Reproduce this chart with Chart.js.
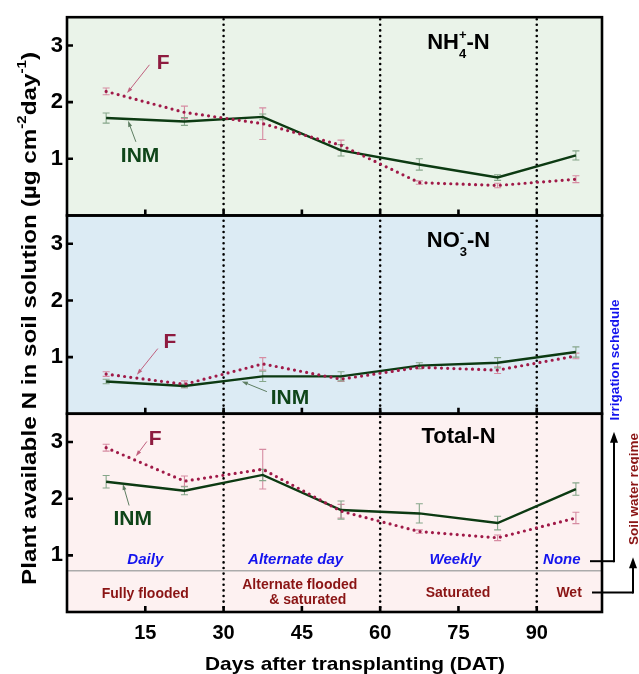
<!DOCTYPE html>
<html>
<head>
<meta charset="utf-8">
<script src="https://cdn.jsdelivr.net/npm/chart.js@4.4.1/dist/chart.umd.min.js"></script>
<style>
  html, body { margin: 0; padding: 0; background: #fff; }
</style>
</head>
<body>
<canvas id="c" width="639" height="674"></canvas>
<script>
// sampling times (days after transplanting)
const days = [7.5, 22.5, 37.5, 52.5, 67.5, 82.5, 97.5];

// NH4+-N
const nh4F = [2.19, 1.82, 1.62, 1.24, 0.58, 0.53, 0.64];
const nh4FErr = [0.06, 0.11, 0.28, 0.09, 0.03, 0.04, 0.06];
const nh4INM = [1.72, 1.66, 1.74, 1.15, 0.90, 0.67, 1.06];
const nh4INMErr = [0.09, 0.07, 0.05, 0.10, 0.10, 0.05, 0.08];

// NO3--N
const no3F = [0.70, 0.52, 0.88, 0.61, 0.82, 0.77, 1.02];
const no3FErr = [0.04, 0.06, 0.11, 0.04, 0.03, 0.06, 0.05];
const no3INM = [0.57, 0.49, 0.66, 0.66, 0.85, 0.90, 1.09];
const no3INMErr = [0.04, 0.03, 0.09, 0.08, 0.05, 0.09, 0.09];

// Total-N
const totF = [2.90, 2.31, 2.52, 1.78, 1.42, 1.31, 1.66];
const totFErr = [0.06, 0.09, 0.35, 0.12, 0.03, 0.05, 0.10];
const totINM = [2.30, 2.14, 2.42, 1.80, 1.74, 1.57, 2.17];
const totINMErr = [0.11, 0.07, 0.10, 0.16, 0.17, 0.12, 0.11];

const xTicks = [15, 30, 45, 60, 75, 90];
const yTicks = [1, 2, 3];
const phaseDays = [30, 60, 90];

const irrigation = ['Daily', 'Alternate day', 'Weekly', 'None'];
const regime = [['Fully flooded'], ['Alternate flooded', '& saturated'], ['Saturated'], ['Wet']];

// colours
const cF = '#A01A48';
const cINM = '#0C3A12';
const cFErr = '#D68CA2';
const cINMErr = '#86A68A';
const cBlue = '#1414EE';
const cRed = '#8A1414';
const FONT = '"Liberation Sans", Arial, sans-serif';
const f = (s, st) => `${st || 'bold'} ${s}px ${FONT}`;

const pts = (ys) => days.map((d, i) => ({x: d, y: ys[i]}));

function line(label, axis, ys, err, isF) {
  return {
    label, yAxisID: axis, data: pts(ys), err,
    errColor: isF ? cFErr : cINMErr,
    borderColor: isF ? cF : cINM,
    backgroundColor: isF ? cF : cINM,
    borderWidth: isF ? 3.2 : 2.4,
    borderDash: isF ? [0, 6.2] : [],
    borderCapStyle: isF ? 'round' : 'butt',
    pointRadius: 0,
    tension: 0
  };
}

// layout of annotations (data units of each panel)
const panelDefs = [
  {axis: 'yN', bg: '#EAF3E9', title: ['NH', {sub: '4', sup: '+'}, '-N'], titleAt: [75, 3.08]},
  {axis: 'yO', bg: '#DCEBF4', title: ['NO', {sub: '3', sup: '-'}, '-N'], titleAt: [75, 3.08]},
  {axis: 'yT', bg: '#FDF1F1', title: ['Total-N'], titleAt: [75, 3.13]}
];
const seriesTags = [
  {axis: 'yN', text: 'F', color: '#8E1B3F', arrowColor: '#C0607E', at: [18.4, 2.72], from: [15.8, 2.66], to: [11.5, 2.16]},
  {axis: 'yN', text: 'INM', color: '#0F4519', arrowColor: '#5E7E62', at: [14.0, 1.08], from: [13.2, 1.30], to: [11.7, 1.67]},
  {axis: 'yO', text: 'F', color: '#8E1B3F', arrowColor: '#C0607E', at: [19.7, 1.30], from: [17.4, 1.15], to: [13.4, 0.69]},
  {axis: 'yO', text: 'INM', color: '#0F4519', arrowColor: '#5E7E62', at: [42.7, 0.31], from: [38.3, 0.39], to: [33.5, 0.57]},
  {axis: 'yT', text: 'F', color: '#8E1B3F', arrowColor: '#C0607E', at: [16.9, 3.08], from: [15.3, 3.01], to: [13.2, 2.75]},
  {axis: 'yT', text: 'INM', color: '#0F4519', arrowColor: '#5E7E62', at: [12.6, 1.67], from: [11.9, 1.88], to: [10.7, 2.26]}
];
const irrigationAt = [[15, 0.95], [43.8, 0.95], [74.4, 0.95], [94.8, 0.95]];
const regimeAt = [[15, 0.33], [44.6, 0.49], [74.9, 0.35], [96.2, 0.36]];
const regimeLine = 0.73;

function richDraw(ctx, parts, cx, cy, size, color, rot, target) {
  const small = Math.round(size * 0.6);
  ctx.save();
  ctx.translate(cx, cy);
  if (rot) ctx.rotate(rot);
  ctx.fillStyle = color;
  ctx.textAlign = 'left';
  ctx.textBaseline = 'alphabetic';
  let w = 0;
  parts.forEach(p => {
    if (typeof p === 'string') { ctx.font = f(size); w += ctx.measureText(p).width; }
    else {
      ctx.font = f(small);
      w += Math.max(p.sub ? ctx.measureText(p.sub).width : 0, p.sup ? ctx.measureText(p.sup).width : 0);
    }
  });
  if (target) { ctx.scale(target / w, 1); }
  let x = -w / 2;
  const base = size * 0.36;
  parts.forEach(p => {
    if (typeof p === 'string') {
      ctx.font = f(size);
      ctx.fillText(p, x, base);
      x += ctx.measureText(p).width;
    } else {
      ctx.font = f(small);
      let pw = 0;
      if (p.sup) { ctx.fillText(p.sup, x, base - size * 0.47); pw = Math.max(pw, ctx.measureText(p.sup).width); }
      if (p.sub) { ctx.fillText(p.sub, x, base + size * 0.4); pw = Math.max(pw, ctx.measureText(p.sub).width); }
      x += pw;
    }
  });
  ctx.restore();
}

function arrow(ctx, x1, y1, x2, y2, color, lw, head, hw) {
  const ang = Math.atan2(y2 - y1, x2 - x1);
  ctx.save();
  ctx.strokeStyle = color; ctx.fillStyle = color; ctx.lineWidth = lw;
  ctx.beginPath(); ctx.moveTo(x1, y1);
  ctx.lineTo(x2 - Math.cos(ang) * head * 0.8, y2 - Math.sin(ang) * head * 0.8); ctx.stroke();
  ctx.translate(x2, y2); ctx.rotate(ang);
  ctx.beginPath(); ctx.moveTo(0, 0); ctx.lineTo(-head, -hw / 2); ctx.lineTo(-head, hw / 2); ctx.closePath(); ctx.fill();
  ctx.restore();
}

const deco = {
  id: 'deco',
  beforeDatasetsDraw(chart) {
    const {ctx, chartArea: a, scales} = chart;
    const xs = scales.x;
    ctx.save();
    panelDefs.forEach(p => {
      const s = scales[p.axis];
      ctx.fillStyle = p.bg;
      ctx.fillRect(a.left, s.top, a.right - a.left, s.bottom - s.top);
    });
    const yT = scales.yT;
    ctx.strokeStyle = '#ABABAB'; ctx.lineWidth = 1.5;
    ctx.beginPath();
    ctx.moveTo(a.left, yT.getPixelForValue(regimeLine)); ctx.lineTo(a.right, yT.getPixelForValue(regimeLine));
    ctx.stroke();
    // phase boundaries
    ctx.strokeStyle = '#000'; ctx.lineWidth = 2.6; ctx.lineCap = 'round'; ctx.setLineDash([0, 5.6]);
    phaseDays.forEach(d => {
      const px = xs.getPixelForValue(d);
      ctx.beginPath(); ctx.moveTo(px, a.top + 2); ctx.lineTo(px, a.bottom); ctx.stroke();
    });
    ctx.setLineDash([]); ctx.lineCap = 'butt';
    // error bars
    chart.data.datasets.forEach(ds => {
      const s = scales[ds.yAxisID];
      ctx.strokeStyle = ds.errColor; ctx.lineWidth = 1.1;
      ds.data.forEach((p, j) => {
        const px = xs.getPixelForValue(p.x);
        const lo = s.getPixelForValue(p.y - ds.err[j]);
        const hi = s.getPixelForValue(p.y + ds.err[j]);
        ctx.beginPath();
        ctx.moveTo(px, lo); ctx.lineTo(px, hi);
        ctx.moveTo(px - 3.5, lo); ctx.lineTo(px + 3.5, lo);
        ctx.moveTo(px - 3.5, hi); ctx.lineTo(px + 3.5, hi);
        ctx.stroke();
      });
    });
    ctx.restore();
  },
  afterDatasetsDraw(chart) {
    const {ctx, chartArea: a, scales} = chart;
    const xs = scales.x;
    ctx.save();
    // frames and inward ticks
    ctx.strokeStyle = '#000'; ctx.lineWidth = 2.6;
    panelDefs.forEach(p => {
      const s = scales[p.axis];
      ctx.strokeRect(a.left, s.top, a.right - a.left, s.bottom - s.top);
      ctx.beginPath();
      xTicks.forEach(t => {
        const px = xs.getPixelForValue(t);
        ctx.moveTo(px, s.bottom); ctx.lineTo(px, s.bottom - 6);
      });
      yTicks.forEach(t => {
        const py = s.getPixelForValue(t);
        ctx.moveTo(a.left, py); ctx.lineTo(a.left + 6, py);
      });
      ctx.stroke();
      richDraw(ctx, p.title, xs.getPixelForValue(p.titleAt[0]), s.getPixelForValue(p.titleAt[1]), 22, '#000');
    });
    // series tags
    seriesTags.forEach(t => {
      const s = scales[t.axis];
      arrow(ctx, xs.getPixelForValue(t.from[0]), s.getPixelForValue(t.from[1]),
        xs.getPixelForValue(t.to[0]), s.getPixelForValue(t.to[1]), t.arrowColor, 1, 6, 4);
      ctx.font = f(21); ctx.fillStyle = t.color; ctx.textAlign = 'center'; ctx.textBaseline = 'alphabetic';
      ctx.fillText(t.text, xs.getPixelForValue(t.at[0]), s.getPixelForValue(t.at[1]) + 21 * 0.36);
    });
    // irrigation schedule / soil water regime
    const yT = scales.yT;
    ctx.textAlign = 'center'; ctx.textBaseline = 'alphabetic';
    irrigation.forEach((t, i) => {
      ctx.font = f(15, 'italic bold'); ctx.fillStyle = cBlue;
      ctx.fillText(t, xs.getPixelForValue(irrigationAt[i][0]), yT.getPixelForValue(irrigationAt[i][1]) + 15 * 0.36);
    });
    regime.forEach((lines, i) => {
      ctx.font = f(14); ctx.fillStyle = cRed;
      lines.forEach((ln, k) => {
        const cx = xs.getPixelForValue(regimeAt[i][0]) + (k ? 8 : 0);
        ctx.fillText(ln, cx, yT.getPixelForValue(regimeAt[i][1]) + 14 * 0.36 + k * 14.5);
      });
    });
    // side arrows
    const noneY = yT.getPixelForValue(irrigationAt[3][1]) + 3;
    const wetY = yT.getPixelForValue(regimeAt[3][1]) + 1;
    const ax1 = a.right + 12, ax2 = a.right + 31;
    ctx.strokeStyle = '#000'; ctx.lineWidth = 2;
    ctx.beginPath(); ctx.moveTo(a.right - 12, noneY); ctx.lineTo(ax1, noneY); ctx.stroke();
    arrow(ctx, ax1, noneY + 1, ax1, yT.top + 18, '#000', 2, 11, 8);
    ctx.beginPath(); ctx.moveTo(a.right - 10, wetY); ctx.lineTo(ax2, wetY); ctx.stroke();
    arrow(ctx, ax2, wetY + 1, ax2, noneY - 4, '#000', 2, 11, 8);
    ctx.font = f(13.5);
    ctx.save(); ctx.translate(ax1 + 1, 360); ctx.rotate(-Math.PI / 2);
    ctx.fillStyle = cBlue; ctx.textAlign = 'center'; ctx.textBaseline = 'middle';
    ctx.fillText('Irrigation schedule', 0, 0); ctx.restore();
    ctx.save(); ctx.translate(ax2 + 1, 489); ctx.rotate(-Math.PI / 2);
    ctx.fillStyle = cRed; ctx.textAlign = 'center'; ctx.textBaseline = 'middle';
    ctx.fillText('Soil water regime', 0, 0); ctx.restore();
    // axis titles
    richDraw(ctx, ['Plant available N in soil solution (\u00b5g cm', {sup: '-2'}, 'day', {sup: '-1'}, ')'],
      28, 318.5, 21, '#000', -Math.PI / 2, 533);
    richDraw(ctx, ['Days after transplanting (DAT)'], 355, 663, 18.5, '#000', 0, 300);
    ctx.restore();
  }
};

function yAxis(weight) {
  return {
    type: 'linear', position: 'left', stack: 'panels', stackWeight: 1, weight,
    min: 0, max: 3.5,
    afterBuildTicks: s => { s.ticks = yTicks.map(v => ({value: v})); },
    afterFit: s => { s.width = 67; },
    grid: {display: false, drawTicks: false},
    border: {display: false},
    ticks: {font: {family: FONT, size: 22, weight: 'bold'}, color: '#000', padding: 4}
  };
}

new Chart(document.getElementById('c'), {
  type: 'line',
  data: {
    datasets: [
      line('F', 'yN', nh4F, nh4FErr, true),
      line('INM', 'yN', nh4INM, nh4INMErr, false),
      line('F', 'yO', no3F, no3FErr, true),
      line('INM', 'yO', no3INM, no3INMErr, false),
      line('F', 'yT', totF, totFErr, true),
      line('INM', 'yT', totINM, totINMErr, false)
    ]
  },
  options: {
    responsive: false,
    animation: false,
    devicePixelRatio: 1,
    layout: {padding: {top: 12, right: 37, left: 0, bottom: 0}},
    plugins: {legend: {display: false}, tooltip: {enabled: false}},
    scales: {
      x: {
        type: 'linear', position: 'bottom', min: 0, max: 102.5,
        afterBuildTicks: s => { s.ticks = xTicks.map(v => ({value: v})); },
        afterFit: s => { s.height = 62; },
        grid: {display: false, drawTicks: false},
        border: {display: false},
        ticks: {font: {family: FONT, size: 20, weight: 'bold'}, color: '#000', padding: 9, maxRotation: 0}
      },
      yN: yAxis(3),
      yO: yAxis(2),
      yT: yAxis(1)
    }
  },
  plugins: [deco]
});
</script>
</body>
</html>
